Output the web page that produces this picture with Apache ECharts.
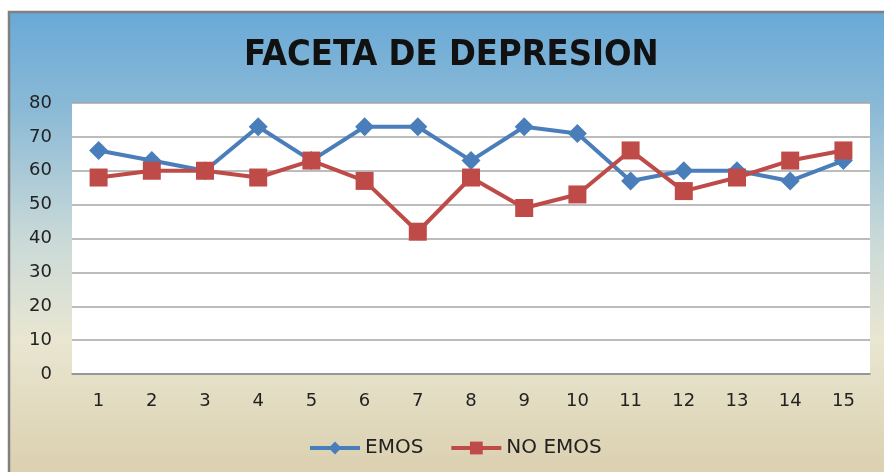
<!DOCTYPE html>
<html><head><meta charset="utf-8">
<script src="https://cdn.jsdelivr.net/npm/echarts@6/dist/echarts.min.js"></script>
<style>html,body{margin:0;padding:0;background:#fff}#c{width:884px;height:472px}</style>
</head><body><div id="c"></div>
<script>
const title = 'FACETA DE DEPRESION';
const categories = ['1','2','3','4','5','6','7','8','9','10','11','12','13','14','15'];
const emos = [66,63,60,73,63,73,73,63,73,71,57,60,60,57,63];
const noEmos = [58,60,60,58,63,57,42,58,49,53,66,54,58,63,66];
const seriesNames = ['EMOS','NO EMOS'];

const chart = echarts.init(document.getElementById('c'), null, {renderer:'canvas'});
chart.setOption({
  animation:false,
  graphic:[{
    type:'rect', z:-10, silent:true,
    shape:{x:9,y:12,width:900,height:480},
    style:{
      fill:new echarts.graphic.LinearGradient(0,0,0,1,[
        {offset:0,color:'#68a9d7'},
        {offset:0.2,color:'#8ab9d6'},
        {offset:0.48,color:'#cbdad8'},
        {offset:0.68,color:'#e9e6d1'},
        {offset:1,color:'#d9cdab'}
      ]),
      stroke:'#808080', lineWidth:2.5
    }
  }],
  title:{text:title,left:244,top:38,padding:0,textStyle:{fontFamily:'Liberation Sans Narrow, DejaVu Sans Condensed, sans-serif',fontWeight:'bold',fontSize:36,color:'#111'}},
  grid:{left:72,right:14,top:103,bottom:98,show:true,backgroundColor:'#fff',borderWidth:0},
  legend:{bottom:9,left:303,itemWidth:50,itemHeight:16,itemGap:26,
    lineStyle:{width:4},
    textStyle:{fontFamily:'DejaVu Sans, sans-serif',fontSize:20,color:'#222'},
    data:seriesNames},
  xAxis:{type:'category',data:categories,boundaryGap:true,
    axisLine:{lineStyle:{color:'#8c8c8c',width:1.5}},axisTick:{show:false},
    axisLabel:{margin:18,fontFamily:'DejaVu Sans, sans-serif',fontSize:18,color:'#222'}},
  yAxis:{type:'value',min:0,max:80,interval:10,
    axisLine:{show:false},axisTick:{show:false},
    splitLine:{lineStyle:{color:'#a6a6a6',width:1.5}},
    axisLabel:{margin:20,fontFamily:'DejaVu Sans, sans-serif',fontSize:18,color:'#222'}},
  series:[
    {name:seriesNames[0],type:'line',data:emos,symbol:'diamond',symbolSize:19,
     lineStyle:{color:'#4a7ebb',width:4},itemStyle:{color:'#4a7ebb'}},
    {name:seriesNames[1],type:'line',data:noEmos,symbol:'rect',symbolSize:18,
     lineStyle:{color:'#be4b48',width:4},itemStyle:{color:'#be4b48'}}
  ]
});
</script></body></html>
